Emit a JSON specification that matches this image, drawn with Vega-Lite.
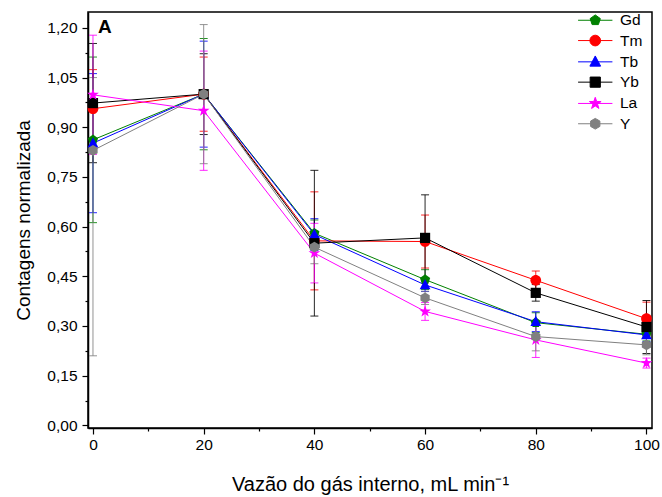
{
  "$schema": "https://vega.github.io/schema/vega-lite/v6.json",
  "width": 564,
  "height": 416,
  "autosize": {"type": "none"},
  "padding": {"left": 88, "top": 12, "right": 10, "bottom": 69},
  "background": "white",
  "title": {
    "text": "A",
    "anchor": "start",
    "frame": "group",
    "orient": "top",
    "offset": -25,
    "dx": 10,
    "font": "Liberation Sans",
    "fontSize": 19,
    "fontWeight": "bold",
    "color": "black"
  },
  "config": {
    "font": "Liberation Sans",
    "view": {"stroke": "black", "strokeWidth": 1.5},
    "axis": {
      "grid": false,
      "domainColor": "black",
      "domainWidth": 1.5,
      "tickColor": "black",
      "tickWidth": 1.2,
      "labelColor": "black",
      "titleColor": "black",
      "labelFont": "Liberation Sans",
      "titleFont": "Liberation Sans",
      "titleFontWeight": "normal",
      "labelFontSize": 15.5
    }
  },
  "data": {
    "values": [
      {"el": "Gd", "flow": 0, "norm": 0.862, "up": 0.25, "lo": -0.25},
      {"el": "Gd", "flow": 20, "norm": 1.0, "up": 0.168, "lo": -0.168},
      {"el": "Gd", "flow": 40, "norm": 0.58, "up": 0.04, "lo": -0.04},
      {"el": "Gd", "flow": 60, "norm": 0.44, "up": 0.03, "lo": -0.03},
      {"el": "Gd", "flow": 80, "norm": 0.31, "up": 0.03, "lo": -0.03},
      {"el": "Gd", "flow": 100, "norm": 0.275, "up": 0.02, "lo": -0.02},
      {"el": "Tm", "flow": 0, "norm": 0.956, "up": 0.118, "lo": -0.118},
      {"el": "Tm", "flow": 20, "norm": 1.0, "up": 0.112, "lo": -0.112},
      {"el": "Tm", "flow": 40, "norm": 0.557, "up": 0.148, "lo": -0.148},
      {"el": "Tm", "flow": 60, "norm": 0.555, "up": 0.08, "lo": -0.08},
      {"el": "Tm", "flow": 80, "norm": 0.438, "up": 0.028, "lo": -0.028},
      {"el": "Tm", "flow": 100, "norm": 0.322, "up": 0.05, "lo": -0.05},
      {"el": "Tb", "flow": 0, "norm": 0.852, "up": 0.21, "lo": -0.21},
      {"el": "Tb", "flow": 20, "norm": 1.0, "up": 0.16, "lo": -0.16},
      {"el": "Tb", "flow": 40, "norm": 0.576, "up": 0.048, "lo": -0.048},
      {"el": "Tb", "flow": 60, "norm": 0.424, "up": 0.02, "lo": -0.02},
      {"el": "Tb", "flow": 80, "norm": 0.313, "up": 0.03, "lo": -0.03},
      {"el": "Tb", "flow": 100, "norm": 0.273, "up": 0.02, "lo": -0.02},
      {"el": "Yb", "flow": 0, "norm": 0.973, "up": 0.18, "lo": -0.18},
      {"el": "Yb", "flow": 20, "norm": 1.0, "up": 0.122, "lo": -0.122},
      {"el": "Yb", "flow": 40, "norm": 0.55, "up": 0.22, "lo": -0.22},
      {"el": "Yb", "flow": 60, "norm": 0.566, "up": 0.13, "lo": -0.13},
      {"el": "Yb", "flow": 80, "norm": 0.4, "up": 0.025, "lo": -0.025},
      {"el": "Yb", "flow": 100, "norm": 0.297, "up": 0.08, "lo": -0.08},
      {"el": "La", "flow": 0, "norm": 0.998, "up": 0.18, "lo": -0.18},
      {"el": "La", "flow": 20, "norm": 0.95, "up": 0.18, "lo": -0.18},
      {"el": "La", "flow": 40, "norm": 0.52, "up": 0.09, "lo": -0.09},
      {"el": "La", "flow": 60, "norm": 0.344, "up": 0.027, "lo": -0.027},
      {"el": "La", "flow": 80, "norm": 0.258, "up": 0.053, "lo": -0.053},
      {"el": "La", "flow": 100, "norm": 0.188, "up": 0.015, "lo": -0.015},
      {"el": "Y", "flow": 0, "norm": 0.83, "up": 0.22, "lo": -0.62},
      {"el": "Y", "flow": 20, "norm": 1.0, "up": 0.21, "lo": -0.21},
      {"el": "Y", "flow": 40, "norm": 0.538, "up": 0.05, "lo": -0.05},
      {"el": "Y", "flow": 60, "norm": 0.385, "up": 0.02, "lo": -0.02},
      {"el": "Y", "flow": 80, "norm": 0.268, "up": 0.043, "lo": -0.043},
      {"el": "Y", "flow": 100, "norm": 0.243, "up": 0.03, "lo": -0.03}
    ]
  },
  "encoding": {
    "x": {
      "field": "flow",
      "type": "quantitative",
      "scale": {"domain": [-0.9, 101], "nice": false, "zero": false},
      "axis": {
        "title": "Vazão do gás interno, mL min⁻¹",
        "titleFontSize": 20,
        "values": [0, 10, 20, 30, 40, 50, 60, 70, 80, 90, 100],
        "labelExpr": "datum.value % 20 == 0 ? datum.label : ''",
        "tickSize": {"condition": {"test": "datum.value % 20 == 0", "value": 6}, "value": 3},
        "labelPadding": 3,
        "titlePadding": 22
      }
    },
    "y": {
      "field": "norm",
      "type": "quantitative",
      "scale": {"domain": [-0.008, 1.248], "nice": false, "zero": false},
      "axis": {
        "title": "Contagens normalizada",
        "titleFontSize": 19,
        "values": [0, 0.075, 0.15, 0.225, 0.3, 0.375, 0.45, 0.525, 0.6, 0.675, 0.75, 0.825, 0.9, 0.975, 1.05, 1.125, 1.2],
        "labelExpr": "round(datum.value * 1000) % 150 == 0 ? replace(format(datum.value, '.2f'), '.', ',') : ''",
        "tickSize": {"condition": {"test": "round(datum.value * 1000) % 150 == 0", "value": 6}, "value": 3},
        "labelPadding": 5,
        "titlePadding": 13
      }
    },
    "color": {
      "field": "el",
      "type": "nominal",
      "scale": {
        "domain": ["Gd", "Tm", "Tb", "Yb", "La", "Y"],
        "range": ["#008000", "#ff0000", "#0000ff", "#000000", "#ff00ff", "#808080"]
      },
      "legend": {
        "orient": "none",
        "legendX": 482,
        "legendY": 0.5,
        "title": null,
        "padding": 0,
        "labelFontSize": 15.5,
        "labelFont": "Liberation Sans",
        "labelColor": "black",
        "symbolSize": 115,
        "symbolOffset": 17.5,
        "labelOffset": 17,
        "rowPadding": 3.3,
        "symbolStrokeWidth": 1,
        "symbolOpacity": 1,
        "encode": {
          "symbols": {
            "update": {
              "shape": {"signal": "'M-3.2,0L3.2,0' + (datum.value === 'Gd' ? 'M0,-1L0.951,-0.309L0.588,0.809L-0.588,0.809L-0.951,-0.309Z' : datum.value === 'Tm' ? 'M1,0A1,1,0,1,1,-1,0A1,1,0,1,1,1,0Z' : datum.value === 'Tb' ? 'M0,-1.1L1,0.8L-1,0.8Z' : datum.value === 'Yb' ? 'M-0.95,-0.95L0.95,-0.95L0.95,0.95L-0.95,0.95Z' : datum.value === 'La' ? 'M0,-1.15L0.27,-0.37L1.09,-0.36L0.44,0.14L0.68,0.93L0,0.46L-0.68,0.93L-0.44,0.14L-1.09,-0.36L-0.27,-0.37Z' : 'M0,-1L0.866,-0.5L0.866,0.5L0,1L-0.866,0.5L-0.866,-0.5Z')"},
              "stroke": {"signal": "scale('color', datum.value)"},
              "fill": {"signal": "scale('color', datum.value)"}
            }
          }
        }
      }
    }
  },
  "layer": [
    {
      "mark": {"type": "errorbar", "ticks": {"size": 8}, "thickness": 1, "opacity": 0.85},
      "encoding": {"yError": {"field": "up"}, "yError2": {"field": "lo"}}
    },
    {
      "mark": {"type": "line", "strokeWidth": 1}
    },
    {
      "transform": [{"filter": {"field": "el", "equal": "Gd"}}],
      "mark": {"type": "point", "filled": true, "size": 115, "opacity": 1, "shape": "M0,-1L0.951,-0.309L0.588,0.809L-0.588,0.809L-0.951,-0.309Z"}
    },
    {
      "transform": [{"filter": {"field": "el", "equal": "Tm"}}],
      "mark": {"type": "point", "filled": true, "size": 115, "opacity": 1, "shape": "M1,0A1,1,0,1,1,-1,0A1,1,0,1,1,1,0Z"}
    },
    {
      "transform": [{"filter": {"field": "el", "equal": "Tb"}}],
      "mark": {"type": "point", "filled": true, "size": 115, "opacity": 1, "shape": "M0,-1.1L1,0.8L-1,0.8Z"}
    },
    {
      "transform": [{"filter": {"field": "el", "equal": "Yb"}}],
      "mark": {"type": "point", "filled": true, "size": 115, "opacity": 1, "shape": "M-0.95,-0.95L0.95,-0.95L0.95,0.95L-0.95,0.95Z"}
    },
    {
      "transform": [{"filter": {"field": "el", "equal": "La"}}],
      "mark": {"type": "point", "filled": true, "size": 115, "opacity": 1, "shape": "M0,-1.15L0.27,-0.37L1.09,-0.36L0.44,0.14L0.68,0.93L0,0.46L-0.68,0.93L-0.44,0.14L-1.09,-0.36L-0.27,-0.37Z"}
    },
    {
      "transform": [{"filter": {"field": "el", "equal": "Y"}}],
      "mark": {"type": "point", "filled": true, "size": 115, "opacity": 1, "shape": "M0,-1L0.866,-0.5L0.866,0.5L0,1L-0.866,0.5L-0.866,-0.5Z"}
    }
  ]
}
